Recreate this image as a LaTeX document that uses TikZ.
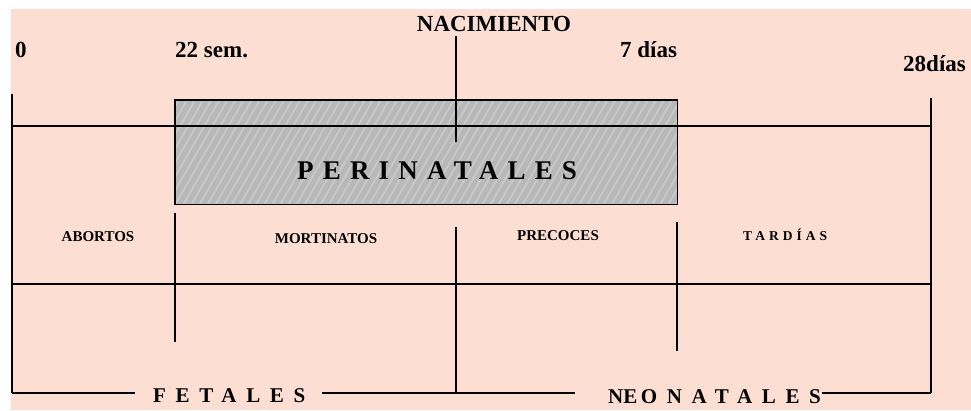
\documentclass[tikz,border=0pt]{standalone}
\usepackage{fontspec}
\setmainfont{Liberation Serif}
\usetikzlibrary{positioning, patterns.meta}

\definecolor{bgpink}{RGB}{253,222,211}
\definecolor{boxgray}{RGB}{184,184,184}
\definecolor{hatchgray}{RGB}{200,200,200}

\begin{document}
\begin{tikzpicture}[x=1pt, y=1pt,
    rule/.style={line width=1.8pt, black},
    mark label/.style={inner sep=0pt, anchor=base west, font=\fontsize{23}{23}\selectfont\bfseries},
    cell label/.style={inner sep=0pt, anchor=base, font=\fontsize{15}{15}\selectfont\bfseries},
    wide label/.style={inner sep=0pt, anchor=base west, font=\fontsize{21}{21}\selectfont\bfseries}]
        \useasboundingbox (0,0) rectangle (971,410);
        \fill[bgpink] (11,0) rectangle (971,401);

        % corners of the frame
        \coordinate (tl) at (12,316);
        \coordinate (bl) at (12,17);
        \coordinate (tr) at (931,312);
        \coordinate (br) at (931,17);

        % perinatal box
        \node[fill=boxgray, minimum width=502pt, minimum height=104pt,
              anchor=north west, inner sep=0pt] (peri) at (175,310) {};
        \fill[pattern={Lines[angle=60, distance=7pt, line width=2pt]}, pattern color=hatchgray]
            (peri.south west) rectangle (peri.north east);
        \draw[line width=1.3pt] (peri.south west) rectangle (peri.north east);

        % frame
        \draw[rule] (tl) -- (bl);
        \draw[rule] (tr) -- (br);
        \draw[rule] (12,284) -- (931,284);
        \draw[rule] (12,126) -- (931,126);

        % top marks
        \node[mark label] (m0) at (15,352) {0};
        \node[mark label] (m22) at (175,352) {22 sem.};
        \node[mark label, anchor=base] (nac) at (494,378) {NACIMIENTO};
        \node[mark label] (m7) at (620,352) {7 días};
        \node[mark label] (m28) at (903,338) {28días};
        \draw[rule] (456,374) -- (456,268);

        \node[inner sep=0pt, anchor=base west, font=\fontsize{27}{27}\selectfont\bfseries\addfontfeature{LetterSpace=34}]
            (perilbl) at (297,230) {PERINATALES};

        % cells
        \node[cell label] (abo) at (98,168) {ABORTOS};
        \node[cell label] (mor) at (326,167) {MORTINATOS};
        \node[cell label] (pre) at (558,169) {PRECOCES};
        \node[cell label, anchor=base west, font=\fontsize{13.5}{13.5}\selectfont\bfseries\addfontfeature{LetterSpace=30}]
            (tar) at (743,169) {TARDÍAS};
        \draw[rule] (175,197) -- (175,68);
        \draw[rule] (456,183) -- (456,17);
        \draw[rule] (677,188) -- (677,59);

        % bottom
        \node[wide label, font=\fontsize{21}{21}\selectfont\bfseries\addfontfeature{LetterSpace=46}] (fet) at (153,8) {FETALES};
        \node[wide label] (neo) at (608,7) {NE{\addfontfeature{LetterSpace=46}\,ONATALES}};
        \draw[rule] (bl) -- (135,17);
        \draw[rule] (322,17) -- (575,17);
        \draw[rule] (822,17) -- (br);
\end{tikzpicture}
\end{document}
